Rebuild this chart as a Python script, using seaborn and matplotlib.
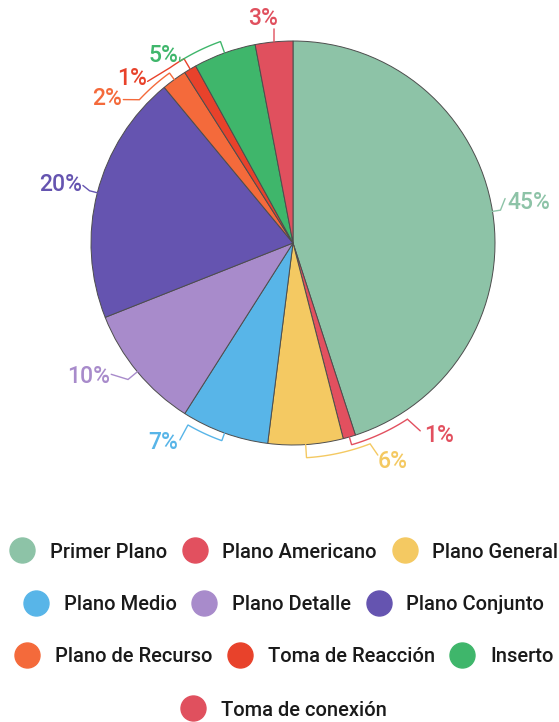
import numpy as np
import matplotlib.pyplot as plt
import seaborn as sns
from matplotlib.lines import Line2D

categories = ["Primer Plano", "Plano Americano", "Plano General",
              "Plano Medio", "Plano Detalle", "Plano Conjunto",
              "Plano de Recurso", "Toma de Reacción", "Inserto",
              "Toma de conexión"]
values = [45, 1, 6, 7, 10, 20, 2, 1, 5, 3]
pct_labels = [f"{v}%" for v in values]
hex_colors = ["#8dc3a7", "#e2505f", "#f4c962", "#58b5e8", "#a88bcb",
              "#6554b0", "#f46a3b", "#e8422b", "#3fb66b", "#e0505e"]

# label layout in pie units (radius 1): text x, text y, ha, anchor x, anchor y, bracket radius, elbow angle
label_layout = [
    (1.06, 0.20, "left", 1.05, 0.22, 1.04, None),
    (0.65, -0.955, "left", 0.63, -0.93, 1.04, -57),
    (0.42, -1.08, "left", 0.42, -1.05, 1.065, -69),
    (-0.57, -0.99, "right", -0.56, -0.975, 1.04, -120),
    (-0.905, -0.66, "right", -0.90, -0.65, 1.06, None),
    (-1.045, 0.29, "right", -1.04, 0.285, 1.04, None),
    (-0.845, 0.715, "right", -0.84, 0.71, 1.04, 137),
    (-0.725, 0.815, "right", -0.72, 0.80, 1.06, 125),
    (-0.565, 0.93, "right", -0.56, 0.92, 1.06, 122),
    (-0.15, 1.11, "center", -0.094, 1.06, 1.0, None),
]

sns.set_theme(style="white")
plt.rcParams["font.family"] = ["Roboto", "DejaVu Sans"]
palette = sns.color_palette(hex_colors)

fig = plt.figure(figsize=(5.59, 7.22), dpi=100)
half = 240
ax = fig.add_axes([(293 - half) / 559, (722 - 243 - half) / 722, 2 * half / 559, 2 * half / 722])

ax.pie(values, colors=palette, startangle=90, counterclock=False, radius=1,
       wedgeprops=dict(edgecolor="#4d4d4d", linewidth=0.7))
lim = half / 202
ax.set_xlim(-lim, lim)
ax.set_ylim(-lim, lim)
ax.set_aspect("equal")
ax.axis("off")

cum = np.cumsum([0] + values[:-1])
for i, v in enumerate(values):
    tx, ty, ha, axx, ayy, rb, elbow = label_layout[i]
    mid = 90 - 360 * (cum[i] + v / 2) / 100
    mid = (mid + 180) % 360 - 180
    pts = [(np.cos(np.radians(mid)), np.sin(np.radians(mid)))]
    if rb > 1.0:
        angs = [mid] if elbow is None else np.linspace(mid, elbow, 20)
        for a in angs:
            pts.append((rb * np.cos(np.radians(a)), rb * np.sin(np.radians(a))))
    pts.append((axx, ayy))
    pts = np.array(pts)
    ax.plot(pts[:, 0], pts[:, 1], color=palette[i], lw=1.0, clip_on=False,
            solid_joinstyle="miter")
    ax.text(tx, ty, pct_labels[i], color=palette[i], ha=ha, va="center",
            fontsize=16.5, fontweight="medium", clip_on=False)

rows = [[0, 1, 2], [3, 4, 5], [6, 7, 8], [9]]
row_y = [552, 605, 657, 710]
for r, y in zip(rows, row_y):
    handles = [Line2D([], [], marker="o", linestyle="none", markersize=18,
                      markerfacecolor=palette[i], markeredgecolor=palette[i])
               for i in r]
    fig.legend(handles, [categories[i] for i in r], loc="center",
               bbox_to_anchor=(0.508, 1 - y / 722), ncol=len(r), frameon=False,
               handlelength=1.25, handletextpad=0.75,
               columnspacing=0.75, borderpad=0, borderaxespad=0,
               prop=dict(size=14.5, weight="medium"), labelcolor="#1a1a1a")

fig.savefig("out.png", dpi=100)
